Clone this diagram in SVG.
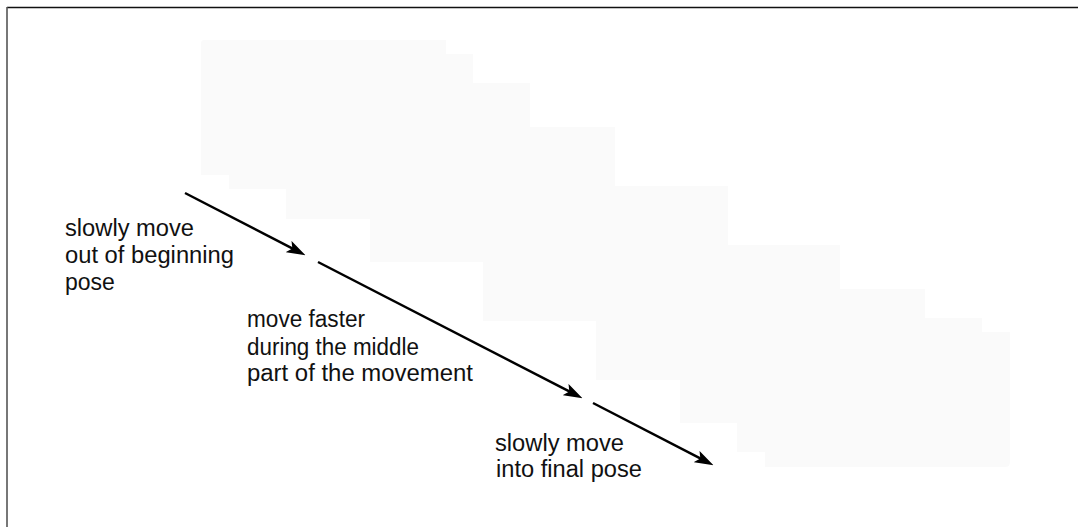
<svg xmlns="http://www.w3.org/2000/svg" width="1078" height="527" viewBox="0 0 1078 527">
<style>
.lbl{font-family:"Liberation Sans",Arial,Helvetica,sans-serif;font-size:23px;fill:#111}
.arr{stroke:#000;stroke-width:2.5;fill:none;marker-end:url(#ah)}
</style>
<defs>
<marker id="ah" markerUnits="userSpaceOnUse" markerWidth="19" markerHeight="13" viewBox="0 0 18 12" refX="8" refY="6" orient="auto">
<path d="M0,0 L18,6 L0,12 L4,6 Z" fill="#000"/>
</marker>
</defs>
<rect x="0" y="0" width="1078" height="527" fill="#fff"/>
<g id="frame">
<line x1="7" y1="7.5" x2="1078" y2="7.5" stroke="#111" stroke-width="1.3"/>
<line x1="7" y1="7" x2="7" y2="527" stroke="#555" stroke-width="1.6"/>
</g>
<g id="stair">
<path d="M204,40 L446,40 L446,54 L473,54 L473,83 L530,83 L530,127 L615,127 L615,186 L728,186 L728,245 L840,245 L840,289 L925,289 L925,318 L982,318 L982,332 L1010,332 L1010,462 Q1010,467 1005,467 L765,467 L765,452 L737,452 L737,423 L680,423 L680,380 L596,380 L596,321 L483,321 L483,262 L370,262 L370,219 L286,219 L286,189 L229,189 L229,175 L201,175 L201,43 Q201,40 204,40 Z" fill="#fafafa"/>
</g>
<g id="connectors">
<line class="arr" x1="185" y1="193" x2="296.1" y2="250.4"/>
<line class="arr" x1="318" y1="262" x2="573.1" y2="393.4"/>
<line class="arr" x1="593" y1="403" x2="704.1" y2="460.4"/>
</g>
<g id="label1">
<text class="lbl" x="65" y="236" textLength="129" lengthAdjust="spacingAndGlyphs">slowly move</text>
<text class="lbl" x="65" y="263" textLength="169" lengthAdjust="spacingAndGlyphs">out of beginning</text>
<text class="lbl" x="65" y="290">pose</text>
</g>
<g id="label2">
<text class="lbl" x="247" y="327" textLength="118" lengthAdjust="spacingAndGlyphs">move faster</text>
<text class="lbl" x="247" y="355" textLength="172" lengthAdjust="spacingAndGlyphs">during the middle</text>
<text class="lbl" x="247" y="381" textLength="226" lengthAdjust="spacingAndGlyphs">part of the movement</text>
</g>
<g id="label3">
<text class="lbl" x="495" y="451" textLength="129" lengthAdjust="spacingAndGlyphs">slowly move</text>
<text class="lbl" x="496" y="477" textLength="146" lengthAdjust="spacingAndGlyphs">into final pose</text>
</g>
</svg>
